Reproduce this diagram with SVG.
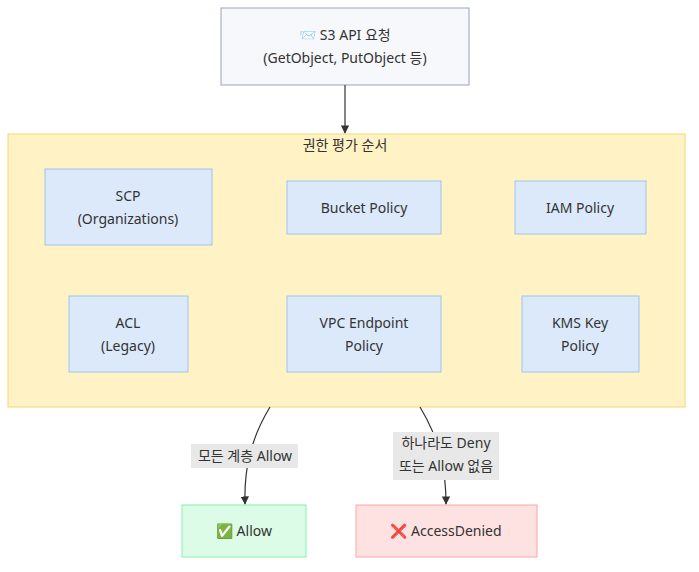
<svg xmlns="http://www.w3.org/2000/svg" width="699" height="572" viewBox="0 0 699 572">
<style>
text{font-family:"Noto Sans","Noto Sans CJK KR",sans-serif;font-size:14px;fill:#333;text-anchor:middle}
.n{fill:#dbe9fb;stroke:#9dc3f0;stroke-width:1}
.e{fill:none;stroke:#333;stroke-width:1.2}
.lb{fill:#e8e8e8}
</style>
<defs><marker id="a" viewBox="0 0 10 10" refX="9" refY="5" markerWidth="7" markerHeight="7" orient="auto"><path d="M0,0L10,5L0,10z" fill="#333"/></marker></defs>
<rect width="699" height="572" fill="#fff"/>
<g id="cluster"><rect x="8" y="134" width="677" height="273" fill="#fff2c4" stroke="#f5d76e"/><text x="345" y="150">권한 평가 순서</text></g>
<g id="req"><rect x="221" y="8" width="248" height="77" fill="#f6f8fb" stroke="#9aa3b5"/><text x="345" y="40">📨 S3 API 요청</text><text x="345" y="63">(GetObject, PutObject 등)</text></g>
<g id="scp"><rect class="n" x="45" y="169" width="167" height="76"/><text x="128" y="201">SCP</text><text x="128" y="224">(Organizations)</text></g>
<g id="bucket"><rect class="n" x="287" y="181" width="154" height="53"/><text x="364" y="213">Bucket Policy</text></g>
<g id="iam"><rect class="n" x="515" y="181" width="131" height="53"/><text x="580" y="213">IAM Policy</text></g>
<g id="acl"><rect class="n" x="69" y="296" width="119" height="76"/><text x="128" y="328">ACL</text><text x="128" y="351">(Legacy)</text></g>
<g id="vpc"><rect class="n" x="287" y="296" width="154" height="76"/><text x="364" y="328">VPC Endpoint</text><text x="364" y="351">Policy</text></g>
<g id="kms"><rect class="n" x="522" y="296" width="117" height="76"/><text x="580" y="328">KMS Key</text><text x="580" y="351">Policy</text></g>
<g id="allow"><rect x="182" y="505" width="124" height="52" fill="#dcfce7" stroke="#86efac"/><text x="244" y="536">✅ Allow</text></g>
<g id="denied"><rect x="356" y="505" width="181" height="52" fill="#fee2e2" stroke="#fca5a5"/><text x="446" y="536">❌ AccessDenied</text></g>
<g id="edges">
<path class="e" d="M345,85V133" marker-end="url(#a)"/>
<path class="e" d="M270,407C250,440 244,470 245,504" marker-end="url(#a)"/>
<path class="e" d="M420,407C440,440 446,470 446,504" marker-end="url(#a)"/>
<rect class="lb" x="191" y="444" width="107" height="24"/><text x="245" y="461">모든 계층 Allow</text>
<rect class="lb" x="393" y="432" width="106" height="48"/><text x="446" y="448">하나라도 Deny</text><text x="446" y="471">또는 Allow 없음</text>
</g>
</svg>
